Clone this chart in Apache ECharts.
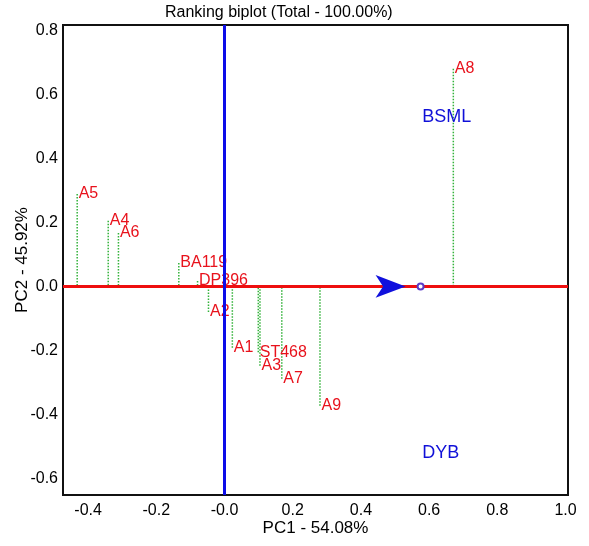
<!DOCTYPE html>
<html>
<head>
<meta charset="utf-8">
<script src="https://cdn.jsdelivr.net/npm/echarts@6/dist/echarts.min.js"></script>
<style>
html,body{margin:0;padding:0;background:#fff;}
#chart{width:589px;height:546px;}
</style>
</head>
<body>
<div id="chart"></div>
<script>
// ---- data ----
const genotypes = ['A5', 'A4', 'A6', 'BA119', 'DP396', 'A2', 'A1', 'ST468', 'A3', 'A7', 'A9', 'A8'];
const genoPC1 = [-0.432, -0.341, -0.311, -0.134, -0.079, -0.047, 0.023, 0.099, 0.104, 0.168, 0.280, 0.671];
const genoPC2 = [0.289, 0.205, 0.167, 0.073, 0.017, -0.080, -0.192, -0.206, -0.248, -0.289, -0.373, 0.680];
const environments = ['BSML', 'DYB'];
const envPC1 = [0.652, 0.634];
const envPC2 = [0.530, -0.521];
const aecMeanPC1 = 0.575; // average environment (arrow tip / circle)
const xTicks = [-0.4, -0.2, 0.0, 0.2, 0.4, 0.6, 0.8, 1.0];
const yTicks = [-0.6, -0.4, -0.2, 0.0, 0.2, 0.4, 0.6, 0.8];
const titleText = 'Ranking biplot (Total - 100.00%)';
const xName = 'PC1 - 54.08%';
const yName = 'PC2 - 45.92%';

const FONT = 'Liberation Sans, Arial, sans-serif';
const RED = '#e8121c';
const BLUE = '#1010d8';
const INK = '#000';

const genoData = genotypes.map((g, i) => ({ name: g, value: [genoPC1[i], genoPC2[i]] }));
const envData = environments.map((e, i) => ({ name: e, value: [envPC1[i], envPC2[i]] }));

const fmt = v => (Math.abs(v) < 1e-9 ? '-0.0' : v.toFixed(1));

const chart = echarts.init(document.getElementById('chart'), null, { renderer: 'canvas' });
chart.setOption({
  animation: false,
  backgroundColor: '#fff',
  graphic: [{
    type: 'text', left: 165, top: 5,
    style: { text: titleText, font: '16px ' + FONT, fill: INK }
  }],
  grid: {
    left: 63, right: 21, top: 25, bottom: 51,
    outerBoundsMode: 'none', containLabel: false,
    show: true, borderColor: '#111', borderWidth: 2, backgroundColor: 'transparent'
  },
  xAxis: {
    type: 'value', min: -0.4736, max: 1.0073,
    axisLine: { show: false }, axisTick: { show: false }, splitLine: { show: false },
    axisLabel: { customValues: xTicks, formatter: fmt, fontSize: 16, fontFamily: FONT, color: INK, margin: 8 },
    name: xName, nameLocation: 'middle', nameGap: 25, nameMoveOverlap: false,
    nameTextStyle: { fontSize: 17, fontFamily: FONT, color: INK }
  },
  yAxis: {
    type: 'value', min: -0.652, max: 0.817,
    axisLine: { show: false }, axisTick: { show: false }, splitLine: { show: false },
    axisLabel: { customValues: yTicks, formatter: v => v.toFixed(1), fontSize: 16, fontFamily: FONT, color: INK, margin: 5 },
    name: yName, nameLocation: 'middle', nameGap: 32, nameMoveOverlap: false,
    nameTextStyle: { fontSize: 17, fontFamily: FONT, color: INK }
  },
  series: [
    {
      type: 'custom', z: 2, silent: true,
      data: genoData.map(d => d.value),
      renderItem: function (params, api) {
        const p1 = api.coord([api.value(0), api.value(1)]);
        const p2 = api.coord([api.value(0), 0]);
        return {
          type: 'line',
          shape: { x1: p1[0], y1: p1[1], x2: p2[0], y2: p2[1] },
          style: { stroke: '#33b23a', lineWidth: 1.5, lineDash: [1.5, 1.5] }
        };
      }
    },
    {
      type: 'scatter', z: 3, symbolSize: 1, silent: true,
      itemStyle: { color: 'rgba(0,0,0,0)', opacity: 1 },
      data: genoData,
      label: {
        show: true, position: 'right', distance: 1,
        formatter: p => p.name, fontSize: 16, fontFamily: FONT, color: RED
      }
    },
    {
      type: 'scatter', z: 3, symbolSize: 1, silent: true,
      itemStyle: { color: 'rgba(0,0,0,0)', opacity: 1 },
      data: envData,
      label: {
        show: true, position: 'inside',
        formatter: p => p.name, fontSize: 18, fontFamily: FONT, color: BLUE
      }
    },
    {
      type: 'scatter', z: 10, data: [],
      markLine: {
        silent: true, symbol: 'none', animation: false,
        label: { show: false },
        data: [
          { yAxis: 0, lineStyle: { color: '#ee0f0f', width: 3, type: 'solid', opacity: 1 } },
          { xAxis: 0, lineStyle: { color: '#0c0ce8', width: 3, type: 'solid', opacity: 1 } }
        ]
      }
    },
    {
      type: 'scatter', z: 12, silent: true,
      symbol: 'arrow', symbolSize: [17, 30], symbolRotate: -90, symbolOffset: [-15, 0],
      itemStyle: { color: '#1010dd', opacity: 1 },
      data: [[aecMeanPC1, 0]]
    },
    {
      type: 'scatter', z: 13, silent: true,
      symbol: 'emptyCircle', symbolSize: 6,
      itemStyle: { color: '#5a3cc8', borderColor: '#5a3cc8', borderWidth: 1.2, opacity: 1 },
      data: [[aecMeanPC1, 0]]
    }
  ]
});
</script>
</body>
</html>
